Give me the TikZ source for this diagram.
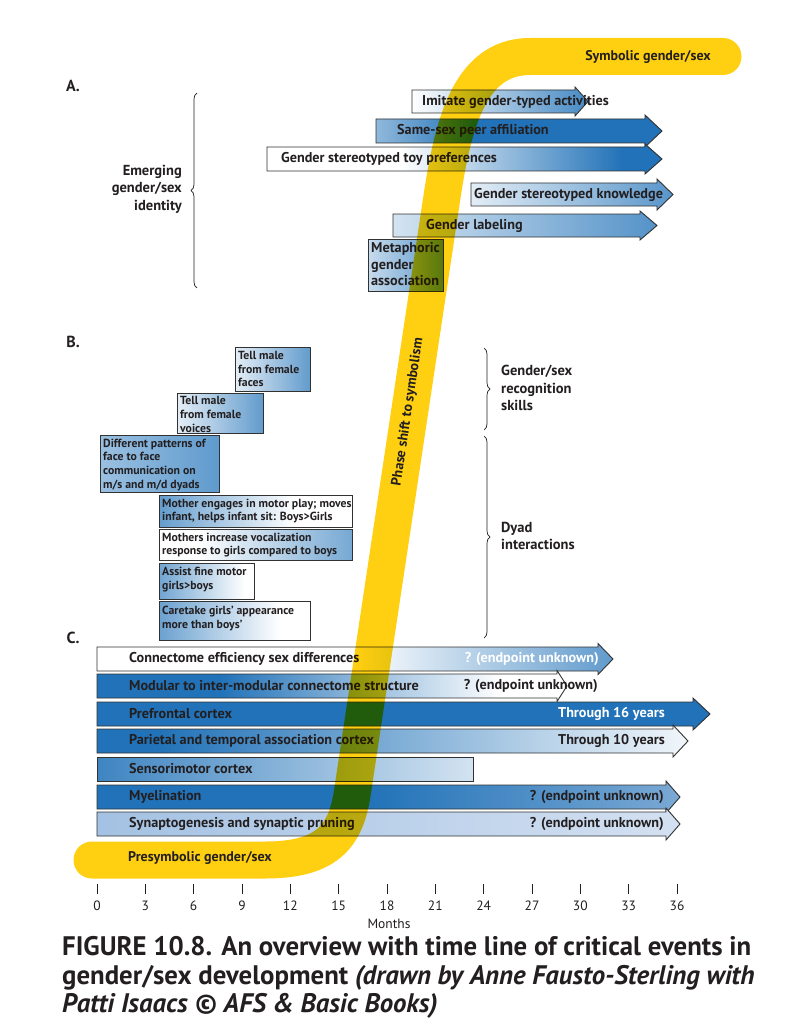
\documentclass[tikz,border=0pt]{standalone}
\usepackage{fontspec}
\setmainfont{PT Sans}
\usetikzlibrary{decorations.pathreplacing}
\definecolor{bblue}{RGB}{33,114,184}
\definecolor{bandc}{RGB}{255,207,17}
\definecolor{txt}{RGB}{35,31,32}
\definecolor{bord}{RGB}{50,50,50}
\definecolor{lbA}{RGB}{185,212,236}
\definecolor{mbA}{RGB}{65,135,195}
\definecolor{preL}{RGB}{110,165,215}
\definecolor{myeR}{RGB}{205,220,238}
\definecolor{synL}{RGB}{140,178,220}
\definecolor{synR}{RGB}{235,240,248}
\pgfdeclarehorizontalshading{shImit}{100bp}{color(0bp)=(white); color(25bp)=(white); color(85bp)=(bblue); color(100bp)=(bblue)}
\pgfdeclarehorizontalshading{shPeer}{100bp}{color(0bp)=(white); color(8bp)=(white); color(42bp)=(bblue); color(100bp)=(bblue)}
\pgfdeclarehorizontalshading{shToy}{100bp}{color(0bp)=(white); color(42bp)=(white); color(70bp)=(bblue); color(100bp)=(bblue)}
\pgfdeclarehorizontalshading{shKnow}{100bp}{color(0bp)=(white); color(15bp)=(white); color(95bp)=(bblue); color(100bp)=(bblue)}
\pgfdeclarehorizontalshading{shLab}{100bp}{color(0bp)=(white); color(8bp)=(white); color(95bp)=(bblue); color(100bp)=(bblue)}
\pgfdeclarehorizontalshading{shMeta}{100bp}{color(0bp)=(white); color(100bp)=(bblue)}
\pgfdeclarehorizontalshading{shFaces}{100bp}{color(0bp)=(white); color(15bp)=(white); color(100bp)=(bblue)}
\pgfdeclarehorizontalshading{shDiff}{100bp}{color(0bp)=(lbA); color(100bp)=(mbA)}
\pgfdeclarehorizontalshading{shMotor}{100bp}{color(0bp)=(bblue); color(10bp)=(bblue); color(60bp)=(white); color(100bp)=(white)}
\pgfdeclarehorizontalshading{shVocal}{100bp}{color(0bp)=(white); color(35bp)=(white); color(100bp)=(bblue)}
\pgfdeclarehorizontalshading{shFine}{100bp}{color(0bp)=(bblue); color(70bp)=(white); color(100bp)=(white)}
\pgfdeclarehorizontalshading{shCare}{100bp}{color(0bp)=(bblue); color(5bp)=(bblue); color(65bp)=(white); color(100bp)=(white)}
\pgfdeclarehorizontalshading{shConn}{100bp}{color(0bp)=(white); color(50bp)=(white); color(85bp)=(bblue); color(100bp)=(bblue)}
\pgfdeclarehorizontalshading{shMod}{100bp}{color(0bp)=(bblue); color(38bp)=(bblue); color(68bp)=(white); color(100bp)=(white)}
\pgfdeclarehorizontalshading{shPre}{100bp}{color(0bp)=(preL); color(6bp)=(bblue); color(100bp)=(bblue)}
\pgfdeclarehorizontalshading{shPar}{100bp}{color(0bp)=(bblue); color(30bp)=(bblue); color(78bp)=(white); color(100bp)=(white)}
\pgfdeclarehorizontalshading{shSens}{100bp}{color(0bp)=(bblue); color(15bp)=(bblue); color(90bp)=(white); color(100bp)=(white)}
\pgfdeclarehorizontalshading{shMye}{100bp}{color(0bp)=(bblue); color(48bp)=(bblue); color(100bp)=(myeR)}
\pgfdeclarehorizontalshading{shSyn}{100bp}{color(0bp)=(synL); color(100bp)=(synR)}
% #1 x0, #2 head base, #3 tip, #4 top, #5 bottom, #6 overhang, #7 shading
\newcommand\myarrow[7]{\shadedraw[bx, shading=#7] (#1,#4) -- (#2,#4) -- (#2,#4-#6) -- (#3,{(#4+#5)/2}) -- (#2,#5+#6) -- (#2,#5) -- (#1,#5) -- cycle;}
\newcommand\mybox[5]{\shadedraw[bx, shading=#5] (#1,#3) rectangle (#2,#4);}
\begin{document}
\begin{tikzpicture}[x=1pt,y=-1pt,
  bx/.style={draw=bord, line width=0.9pt},
  lbl/.style={font=\fontsize{14.2}{16}\selectfont\bfseries, text=txt, inner sep=0, anchor=west},
  lblw/.style={lbl, text=white},
  sml/.style={font=\fontsize{11.75}{13.7}\selectfont\bfseries, text=txt, inner sep=0, anchor=north west, align=left},
  brc/.style={font=\fontsize{14.5}{17.5}\selectfont\bfseries, text=txt, inner sep=0, align=left},
  sec/.style={font=\fontsize{16}{18}\selectfont\bfseries, text=txt, inner sep=0},
  axl/.style={font=\fontsize{13.5}{15}\selectfont, text=txt, inner sep=0},
  bracedeco/.style={draw=txt, line width=0.7pt, decorate, decoration={brace, amplitude=6pt}},
  bandline/.style={draw=bandc, line width=37pt, line cap=round, line join=round},
  bandtxt/.style={font=\fontsize{14}{16}\selectfont\bfseries, text=txt, inner sep=0},
  capt/.style={font=\bfseries\fontsize{26.8}{28}\selectfont, text=txt, inner sep=0, anchor=base west}
]
\useasboundingbox (0,0) rectangle (800,1035);
\fill[white] (0,0) rectangle (800,1035);

% ---------- section labels
\node[sec] (secA) at (73,86) {A.};
\node[sec] (secB) at (73,342) {B.};
\node[sec] (secC) at (73,638) {C.};

% ---------- A
\myarrow{412}{575}{588}{90}{113}{3}{shImit}
\myarrow{376}{645}{662}{119}{143}{4}{shPeer}
\myarrow{267}{645}{662}{147}{171}{3}{shToy}
\myarrow{471}{657}{673}{183}{206}{4}{shKnow}
\myarrow{393}{640}{657}{214}{237}{3}{shLab}
\mybox{368}{443}{239}{291}{shMeta}
\node[lbl] (imit) at (422,102) {Imitate gender-typed activities};
\node[lbl] (peer) at (397,131) {Same-sex peer affiliation};
\node[lbl] (toy) at (281,159) {Gender stereotyped toy preferences};
\node[lbl] (know) at (474,195) {Gender stereotyped knowledge};
\node[lbl] (labl) at (426,226) {Gender labeling};
\node[sml, font=\fontsize{14.2}{16.5}\selectfont\bfseries] (meta) at (371,242.5) {Metaphoric\\gender\\association};
\draw[bracedeco] (197,288) -- (197,93);
\node[brc, align=right, anchor=east] (emerg) at (182,189) {Emerging\\gender/sex\\identity};

% ---------- B
\mybox{235}{310}{347}{391}{shFaces}
\mybox{177}{263}{393}{433}{shFaces}
\mybox{100}{219}{435}{492}{shDiff}
\mybox{159}{352}{495}{527}{shMotor}
\mybox{159}{352}{529}{560}{shVocal}
\mybox{159}{254}{563}{599}{shFine}
\mybox{159}{310}{601}{640}{shCare}
\node[sml] (faces) at (238,351) {Tell male\\from female\\faces};
\node[sml] (voices) at (180,396.5) {Tell male\\from female\\voices};
\node[sml] (diff) at (103,438.5) {Different patterns of\\face to face\\communication on\\m/s and m/d dyads};
\node[sml] (motor) at (162,498.5) {Mother engages in motor play; moves\\infant, helps infant sit: Boys>Girls};
\node[sml] (vocal) at (162,532.5) {Mothers increase vocalization\\response to girls compared to boys};
\node[sml] (fine) at (162,567) {Assist fine motor\\girls>boys};
\node[sml] (care) at (162,606) {Caretake girls’ appearance\\more than boys’};
\draw[bracedeco] (484,348) -- (484,430);
\draw[bracedeco] (484,436) -- (484,638);
\node[brc, anchor=west] (recog) at (501,388) {Gender/sex\\recognition\\skills};
\node[brc, anchor=west] (dyad) at (501,536) {Dyad\\interactions};

% ---------- C
\myarrow{97}{598}{613}{647}{671}{3.5}{shConn}
\myarrow{97}{557}{567}{674}{698}{3.5}{shMod}
\myarrow{97}{693}{710}{702}{726}{4}{shPre}
\myarrow{97}{673}{688}{729}{753}{4}{shPar}
\mybox{97}{473}{757}{781}{shSens}
\myarrow{97}{666}{680}{785}{809}{4}{shMye}
\myarrow{97}{666}{680}{812}{836}{4}{shSyn}
\node[lbl] (conn) at (129,659) {Connectome efficiency sex differences};
\node[lbl] (modu) at (129,686) {Modular to inter-modular connectome structure};
\node[lbl] (pref) at (129,714) {Prefrontal cortex};
\node[lbl] (pari) at (129,741) {Parietal and temporal association cortex};
\node[lbl] (sens) at (129,769) {Sensorimotor cortex};
\node[lbl] (myel) at (129,797) {Myelination};
\node[lbl] (syna) at (129,824) {Synaptogenesis and synaptic pruning};
\node[lblw, anchor=east] (connR) at (599,659) {? (endpoint unknown)};
\node[lbl, anchor=east] (moduR) at (598,686) {? (endpoint unknown)};
\node[lblw, anchor=east] (prefR) at (665,714) {Through 16 years};
\node[lbl, anchor=east] (pariR) at (665,741) {Through 10 years};
\node[lbl, anchor=east] (myelR) at (664,797) {? (endpoint unknown)};
\node[lbl, anchor=east] (synaR) at (664,824) {? (endpoint unknown)};

% ---------- axis
\foreach \m in {0,3,...,36} {
  \draw[txt, line width=0.8pt] ({97+\m*16.1111},884) -- ({97+\m*16.1111},894);
  \node[axl] (t\m) at ({97+\m*16.1111},906) {\m};
}
\node[axl] (months) at (389,924) {Months};

% ---------- band
\begin{scope}[blend mode=multiply]
\draw[bandline] (92,860) -- (265,860) .. controls (325,860) and (345,838) .. (352,795) -- (441.5,200) .. controls (452.3,128) and (468,56.5) .. (530,56.5) -- (723,56.5);
\end{scope}
\node[bandtxt] (symb) at (648,57) {Symbolic gender/sex};
\node[bandtxt] (presymb) at (200,858) {Presymbolic gender/sex};
\node[bandtxt, rotate=81.5] (phase) at (408,412) {Phase shift to symbolism};

% ---------- caption
\node[capt] (cap1) at (62,955) {FIGURE 10.8. An overview with time line of critical events in};
\node[capt] (cap2) at (62,984) {gender/sex development \textit{(drawn by Anne Fausto-Sterling with}};
\node[capt] (cap3) at (62,1012) {\textit{Patti Isaacs © AFS \& Basic Books)}};
\end{tikzpicture}
\end{document}
